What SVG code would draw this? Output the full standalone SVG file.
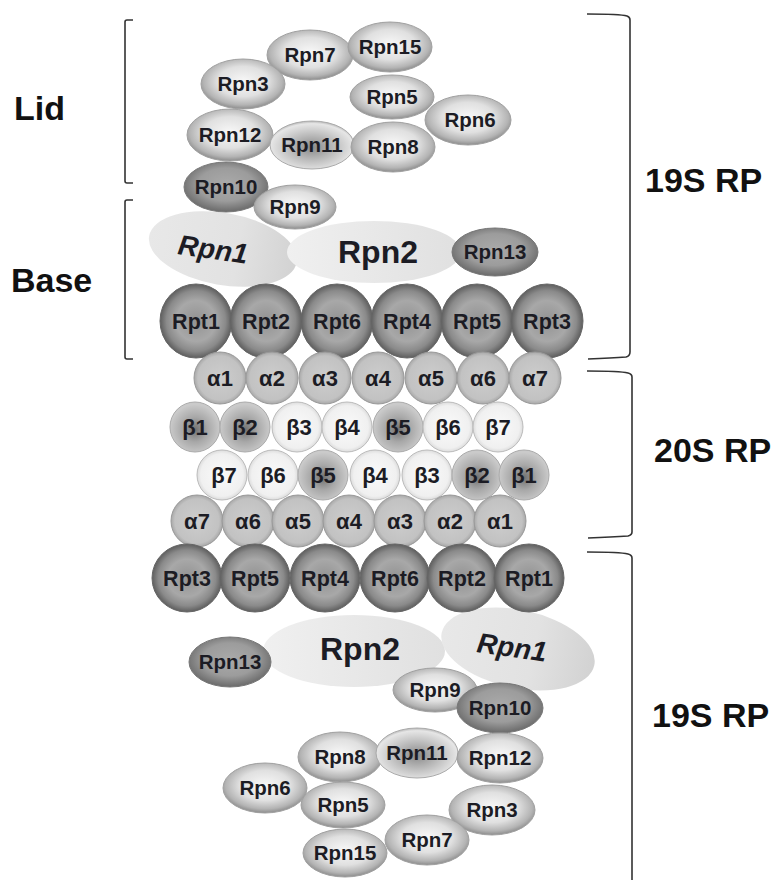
<svg xmlns="http://www.w3.org/2000/svg" width="781" height="880" viewBox="0 0 781 880">
<defs>
<radialGradient id="gRpn" cx="0.5" cy="0.45" r="0.55">
<stop offset="0" stop-color="#f8f8f8"/><stop offset="0.55" stop-color="#e0e0e0"/><stop offset="0.85" stop-color="#b4b4b4"/><stop offset="1" stop-color="#8c8c8c"/>
</radialGradient>
<radialGradient id="gDark" cx="0.5" cy="0.45" r="0.55">
<stop offset="0" stop-color="#aaaaaa"/><stop offset="0.6" stop-color="#9c9c9c"/><stop offset="1" stop-color="#6a6a6a"/>
</radialGradient>
<radialGradient id="gInv" cx="0.5" cy="0.55" r="0.55">
<stop offset="0" stop-color="#8a8a8a"/><stop offset="0.6" stop-color="#c8c8c8"/><stop offset="0.9" stop-color="#e6e6e6"/><stop offset="1" stop-color="#b5b5b5"/>
</radialGradient>
<radialGradient id="gRpt" cx="0.5" cy="0.5" r="0.5">
<stop offset="0" stop-color="#929292"/><stop offset="0.55" stop-color="#a8a8a8"/><stop offset="0.82" stop-color="#8a8a8a"/><stop offset="1" stop-color="#5e5e5e"/>
</radialGradient>
<radialGradient id="gA" cx="0.5" cy="0.5" r="0.5">
<stop offset="0" stop-color="#cdcdcd"/><stop offset="0.85" stop-color="#c2c2c2"/><stop offset="1" stop-color="#a8a8a8"/>
</radialGradient>
<radialGradient id="gBd" cx="0.5" cy="0.55" r="0.5">
<stop offset="0" stop-color="#707070"/><stop offset="0.5" stop-color="#a8a8a8"/><stop offset="1" stop-color="#cacaca"/>
</radialGradient>
<radialGradient id="gBw" cx="0.5" cy="0.5" r="0.5">
<stop offset="0" stop-color="#fafafa"/><stop offset="0.85" stop-color="#f0f0f0"/><stop offset="1" stop-color="#dcdcdc"/>
</radialGradient>
<linearGradient id="gBig1" x1="0" y1="0" x2="1" y2="0">
<stop offset="0" stop-color="#e8e8e8"/><stop offset="0.6" stop-color="#e2e2e2"/><stop offset="1" stop-color="#d2d2d2"/>
</linearGradient>
<linearGradient id="gBig2" x1="0" y1="0" x2="1" y2="0">
<stop offset="0" stop-color="#f0f0f0"/><stop offset="1" stop-color="#e0e0e0"/>
</linearGradient>
</defs>
<style>
.t{font-family:"Liberation Sans",Arial,sans-serif;font-weight:bold;fill:#1c1c24;text-anchor:middle}
.rpn{font-size:20.5px}
.rpt{font-size:21.5px}
.gr{font-size:22px}
.big{font-size:32px}
.it{font-size:28px;font-style:italic}
.lab{font-family:"Liberation Sans",Arial,sans-serif;font-weight:bold;font-size:34px;fill:#111}
.e{fill:url(#gRpn);stroke:#a0a0a0;stroke-width:1}
.ed{fill:url(#gDark);stroke:#777;stroke-width:1}
.ei{fill:url(#gInv);stroke:#aaa;stroke-width:1}
.rp{fill:url(#gRpt);stroke:#666;stroke-width:1}
.a{fill:url(#gA);stroke:#999;stroke-width:1}
.bd{fill:url(#gBd);stroke:#aaa;stroke-width:1}
.bw{fill:url(#gBw);stroke:#bbb;stroke-width:1}
.br{fill:none;stroke:#333;stroke-width:1.6}
</style>
<rect width="781" height="880" fill="#fff"/>

<g id="brackets">
<path class="br" d="M133,20 H127 Q125,20 125,22 V181 Q125,183 127,183 H133"/>
<path class="br" d="M133,200 H127 Q125,200 125,202 V357 Q125,359 127,359 H133"/>
<path class="br" d="M587,14 Q620,14 627,16 Q630,17 630,20 V352 Q630,356 626,357 Q612,358 588,359"/>
<path class="br" d="M587,371 Q620,371 628,373 Q632,374 632,377 V532 Q632,535 628,536 Q612,537 588,538"/>
<path class="br" d="M587,552 Q620,552 628,554 Q632,555 632,558 V880"/>
</g>

<g id="labels">
<text class="lab" x="14" y="120">Lid</text>
<text class="lab" x="11" y="292">Base</text>
<text class="lab" x="645" y="192">19S RP</text>
<text class="lab" x="654" y="462">20S RP</text>
<text class="lab" x="652" y="727">19S RP</text>
</g>

<!-- top lid -->
<g id="top-Rpn7"><ellipse class="e" cx="310" cy="55" rx="43" ry="25"/><text class="t rpn" x="310" y="62">Rpn7</text></g>
<g id="top-Rpn15"><ellipse class="e" cx="390" cy="47" rx="42" ry="25"/><text class="t rpn" x="390" y="54">Rpn15</text></g>
<g id="top-Rpn3"><ellipse class="e" cx="243" cy="84" rx="42" ry="25"/><text class="t rpn" x="243" y="91">Rpn3</text></g>
<g id="top-Rpn5"><ellipse class="e" cx="392" cy="97" rx="42" ry="22"/><text class="t rpn" x="392" y="104">Rpn5</text></g>
<g id="top-Rpn6"><ellipse class="e" cx="468" cy="120" rx="43" ry="25"/><text class="t rpn" x="470" y="127">Rpn6</text></g>
<g id="top-Rpn12"><ellipse class="e" cx="230" cy="135" rx="43" ry="26"/><text class="t rpn" x="230" y="142">Rpn12</text></g>
<g id="top-Rpn11"><ellipse class="ei" cx="312" cy="145" rx="42" ry="24"/><text class="t rpn" x="312" y="152">Rpn11</text></g>
<g id="top-Rpn8"><ellipse class="e" cx="393" cy="147" rx="42" ry="25"/><text class="t rpn" x="393" y="154">Rpn8</text></g>

<!-- top base -->
<g id="top-Rpn1"><ellipse cx="223" cy="249" rx="75" ry="36" transform="rotate(10 223 249)" fill="url(#gBig1)"/><text class="t it" x="213" y="259" transform="rotate(8 213 250)">Rpn1</text></g>
<g id="top-Rpn2"><ellipse cx="374" cy="252" rx="87" ry="31" fill="url(#gBig2)"/><text class="t big" x="378" y="263">Rpn2</text></g>
<g id="top-Rpn10"><ellipse class="ed" cx="226" cy="187" rx="42" ry="25"/><text class="t rpn" x="226" y="194">Rpn10</text></g>
<g id="top-Rpn9"><ellipse class="e" cx="295" cy="207" rx="41" ry="22"/><text class="t rpn" x="295" y="214">Rpn9</text></g>
<g id="top-Rpn13"><ellipse class="ed" cx="495" cy="252" rx="43" ry="24"/><text class="t rpn" x="495" y="259">Rpn13</text></g>

<g id="top-Rpt1"><ellipse class="rp" cx="196" cy="321" rx="36" ry="37"/><text class="t rpt" x="196" y="329">Rpt1</text></g>
<g id="top-Rpt2"><ellipse class="rp" cx="266" cy="321" rx="36" ry="37"/><text class="t rpt" x="266" y="329">Rpt2</text></g>
<g id="top-Rpt6"><ellipse class="rp" cx="337" cy="321" rx="36" ry="37"/><text class="t rpt" x="337" y="329">Rpt6</text></g>
<g id="top-Rpt4"><ellipse class="rp" cx="407" cy="321" rx="36" ry="37"/><text class="t rpt" x="407" y="329">Rpt4</text></g>
<g id="top-Rpt5"><ellipse class="rp" cx="477" cy="321" rx="36" ry="37"/><text class="t rpt" x="477" y="329">Rpt5</text></g>
<g id="top-Rpt3"><ellipse class="rp" cx="547" cy="321" rx="36" ry="37"/><text class="t rpt" x="547" y="329">Rpt3</text></g>

<!-- 20S core -->
<g id="a-top-1"><circle class="a" cx="220" cy="378" r="26"/><text class="t gr" x="220" y="386">α1</text></g>
<g id="a-top-2"><circle class="a" cx="272" cy="378" r="26"/><text class="t gr" x="272" y="386">α2</text></g>
<g id="a-top-3"><circle class="a" cx="325" cy="378" r="26"/><text class="t gr" x="325" y="386">α3</text></g>
<g id="a-top-4"><circle class="a" cx="378" cy="378" r="26"/><text class="t gr" x="378" y="386">α4</text></g>
<g id="a-top-5"><circle class="a" cx="431" cy="378" r="26"/><text class="t gr" x="431" y="386">α5</text></g>
<g id="a-top-6"><circle class="a" cx="483" cy="378" r="26"/><text class="t gr" x="483" y="386">α6</text></g>
<g id="a-top-7"><circle class="a" cx="535" cy="378" r="26"/><text class="t gr" x="535" y="386">α7</text></g>

<g id="b-top-1"><circle class="bd" cx="195" cy="427" r="25"/><text class="t gr" x="195" y="435">β1</text></g>
<g id="b-top-2"><circle class="bd" cx="245" cy="427" r="25"/><text class="t gr" x="245" y="435">β2</text></g>
<g id="b-top-3"><circle class="bw" cx="297" cy="427" r="25"/><text class="t gr" x="299" y="435">β3</text></g>
<g id="b-top-4"><circle class="bw" cx="347" cy="427" r="25"/><text class="t gr" x="347" y="435">β4</text></g>
<g id="b-top-5"><circle class="bd" cx="398" cy="427" r="25"/><text class="t gr" x="398" y="435">β5</text></g>
<g id="b-top-6"><circle class="bw" cx="448" cy="427" r="25"/><text class="t gr" x="448" y="435">β6</text></g>
<g id="b-top-7"><circle class="bw" cx="498" cy="427" r="25"/><text class="t gr" x="498" y="435">β7</text></g>

<g id="b-bot-7"><circle class="bw" cx="222" cy="475" r="25"/><text class="t gr" x="224" y="483">β7</text></g>
<g id="b-bot-6"><circle class="bw" cx="273" cy="475" r="25"/><text class="t gr" x="273" y="483">β6</text></g>
<g id="b-bot-5"><circle class="bd" cx="323" cy="475" r="25"/><text class="t gr" x="323" y="483">β5</text></g>
<g id="b-bot-4"><circle class="bw" cx="375" cy="475" r="25"/><text class="t gr" x="375" y="483">β4</text></g>
<g id="b-bot-3"><circle class="bw" cx="427" cy="475" r="25"/><text class="t gr" x="427" y="483">β3</text></g>
<g id="b-bot-2"><circle class="bd" cx="477" cy="475" r="25"/><text class="t gr" x="477" y="483">β2</text></g>
<g id="b-bot-1"><circle class="bd" cx="524" cy="475" r="25"/><text class="t gr" x="524" y="483">β1</text></g>

<g id="a-bot-7"><circle class="a" cx="197" cy="521" r="26"/><text class="t gr" x="197" y="529">α7</text></g>
<g id="a-bot-6"><circle class="a" cx="248" cy="521" r="26"/><text class="t gr" x="248" y="529">α6</text></g>
<g id="a-bot-5"><circle class="a" cx="298" cy="521" r="26"/><text class="t gr" x="298" y="529">α5</text></g>
<g id="a-bot-4"><circle class="a" cx="349" cy="521" r="26"/><text class="t gr" x="349" y="529">α4</text></g>
<g id="a-bot-3"><circle class="a" cx="400" cy="521" r="26"/><text class="t gr" x="400" y="529">α3</text></g>
<g id="a-bot-2"><circle class="a" cx="450" cy="521" r="26"/><text class="t gr" x="450" y="529">α2</text></g>
<g id="a-bot-1"><circle class="a" cx="500" cy="521" r="26"/><text class="t gr" x="500" y="529">α1</text></g>

<!-- bottom base -->
<g id="bot-Rpn2"><ellipse cx="354" cy="651" rx="91" ry="36" fill="url(#gBig2)"/><text class="t big" x="360" y="660">Rpn2</text></g>
<g id="bot-Rpn1"><ellipse cx="518" cy="649" rx="78" ry="39" transform="rotate(12 518 649)" fill="url(#gBig1)"/><text class="t it" x="512" y="657" transform="rotate(8 512 648)">Rpn1</text></g>
<g id="bot-Rpn13"><ellipse class="ed" cx="230" cy="662" rx="41" ry="25"/><text class="t rpn" x="230" y="669">Rpn13</text></g>

<g id="bot-Rpt3"><ellipse class="rp" cx="187" cy="578" rx="35" ry="34"/><text class="t rpt" x="187" y="586">Rpt3</text></g>
<g id="bot-Rpt5"><ellipse class="rp" cx="255" cy="578" rx="35" ry="34"/><text class="t rpt" x="255" y="586">Rpt5</text></g>
<g id="bot-Rpt4"><ellipse class="rp" cx="325" cy="578" rx="35" ry="34"/><text class="t rpt" x="325" y="586">Rpt4</text></g>
<g id="bot-Rpt6"><ellipse class="rp" cx="395" cy="578" rx="35" ry="34"/><text class="t rpt" x="395" y="586">Rpt6</text></g>
<g id="bot-Rpt2"><ellipse class="rp" cx="462" cy="578" rx="35" ry="34"/><text class="t rpt" x="462" y="586">Rpt2</text></g>
<g id="bot-Rpt1"><ellipse class="rp" cx="529" cy="578" rx="35" ry="34"/><text class="t rpt" x="529" y="586">Rpt1</text></g>

<!-- bottom lid -->
<g id="bot-Rpn9"><ellipse class="e" cx="435" cy="690" rx="42" ry="22"/><text class="t rpn" x="435" y="697">Rpn9</text></g>
<g id="bot-Rpn10"><ellipse class="ed" cx="500" cy="708" rx="43" ry="25"/><text class="t rpn" x="500" y="715">Rpn10</text></g>
<g id="bot-Rpn8"><ellipse class="e" cx="340" cy="757" rx="42" ry="25"/><text class="t rpn" x="340" y="764">Rpn8</text></g>
<g id="bot-Rpn11"><ellipse class="ei" cx="417" cy="753" rx="41" ry="25"/><text class="t rpn" x="417" y="760">Rpn11</text></g>
<g id="bot-Rpn12"><ellipse class="e" cx="500" cy="758" rx="43" ry="25"/><text class="t rpn" x="500" y="765">Rpn12</text></g>
<g id="bot-Rpn6"><ellipse class="e" cx="265" cy="788" rx="42" ry="25"/><text class="t rpn" x="265" y="795">Rpn6</text></g>
<g id="bot-Rpn5"><ellipse class="e" cx="343" cy="805" rx="42" ry="23"/><text class="t rpn" x="343" y="812">Rpn5</text></g>
<g id="bot-Rpn3"><ellipse class="e" cx="492" cy="810" rx="43" ry="25"/><text class="t rpn" x="492" y="817">Rpn3</text></g>
<g id="bot-Rpn7"><ellipse class="e" cx="427" cy="840" rx="42" ry="25"/><text class="t rpn" x="427" y="847">Rpn7</text></g>
<g id="bot-Rpn15"><ellipse class="e" cx="345" cy="853" rx="42" ry="24"/><text class="t rpn" x="345" y="860">Rpn15</text></g>
</svg>
